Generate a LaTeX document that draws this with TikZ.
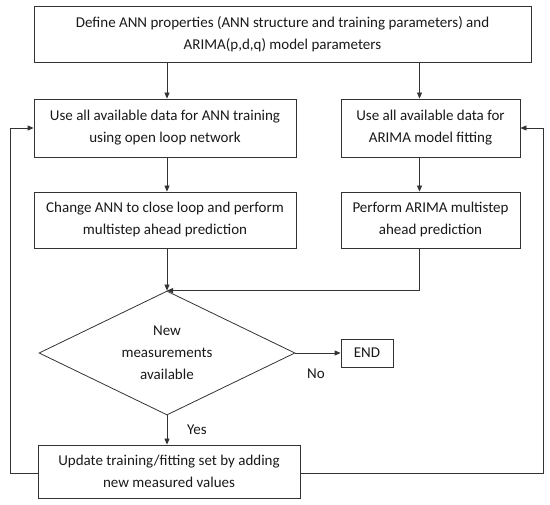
\documentclass[tikz,border=0pt]{standalone}
\usepackage{fontspec}
\setmainfont{Carlito}
\usetikzlibrary{shapes.geometric,arrows.meta,calc}
\begin{document}
\begin{tikzpicture}[x=1pt,y=-1pt,
  every node/.style={font=\fontsize{15}{22}\selectfont, text=black!90},
  box/.style={draw=black!80, line width=0.8pt, align=center, inner sep=0pt},
  dec/.style={draw=black!80, line width=0.8pt, diamond, aspect=2.1, align=center, inner sep=0pt},
  conn/.style={draw=black!80, line width=0.8pt},
  arr/.style={conn, -{Triangle[length=6pt,width=5pt]}},
  lbl/.style={inner sep=0pt}]
\useasboundingbox (0,0) rectangle (550,505);
\node[box, minimum width=497, minimum height=56] (top) at (282.5,34)
  {Define ANN properties (ANN structure and training parameters) and\\ARIMA(p,d,q) model parameters};
\node[box, minimum width=262, minimum height=58] (ann1) at (165,128)
  {Use all available data for ANN training\\using open loop network};
\node[box, minimum width=179, minimum height=58] (ar1) at (430.5,128)
  {Use all available data for\\ARIMA model fitting};
\node[box, minimum width=262, minimum height=56] (ann2) at (165,220)
  {Change ANN to close loop and perform\\multistep ahead prediction};
\node[box, minimum width=179, minimum height=56] (ar2) at (430.5,220)
  {Perform ARIMA multistep\\ahead prediction};
\node[dec, minimum width=256, minimum height=124] (dec) at (167,353)
  {New\\measurements\\available};
\node[box, minimum width=52, minimum height=28] (end) at (367,353) {END};
\node[box, minimum width=262, minimum height=53] (upd) at (169,471.5)
  {Update training/fitting set by adding\\new measured values};
\node[lbl] (no) at (316,374) {No};
\node[lbl] (yes) at (197,430) {Yes};
\coordinate (lfb) at (10,0);
\coordinate (rfb) at (543,0);
\draw[arr] (dec.north |- top.south) -- (dec.north |- ann1.north);
\draw[arr] ([xshift=-11pt]ar1.north |- top.south) -- ([xshift=-11pt]ar1.north);
\draw[arr] (dec.north |- ann1.south) -- (dec.north |- ann2.north);
\draw[arr] ([xshift=-11pt]ar1.south) -- ([xshift=-11pt]ar2.north);
\draw[arr] (dec.north |- ann2.south) -- (dec.north);
\draw[arr] ([xshift=-11pt]ar2.south) |- (dec.north);
\draw[arr] (dec.east) -- (end.west);
\draw[arr] (dec.south) -- (upd.north -| dec.south);
\draw[arr] ([yshift=-1.5pt]upd.west) -| (lfb |- ann1.west) -- (ann1.west);
\draw[arr] ([yshift=-1.5pt]upd.east) -| (rfb |- ar1.east) -- (ar1.east);
\end{tikzpicture}
\end{document}
